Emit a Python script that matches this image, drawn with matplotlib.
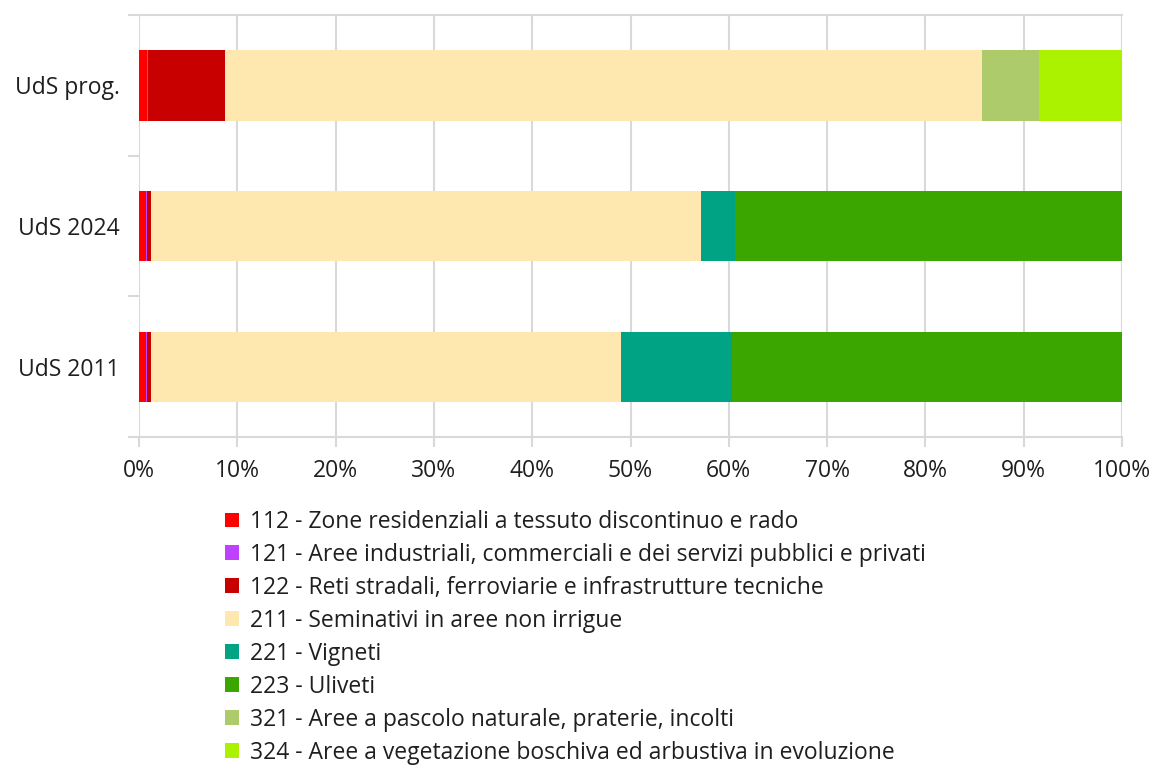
import matplotlib
matplotlib.use("Agg")
import matplotlib.pyplot as plt
from matplotlib.patches import Patch
import numpy as np

plt.rcParams['font.family'] = ['Open Sans', 'DejaVu Sans']

categories = ["UdS 2011", "UdS 2024", "UdS prog."]
classes = [
    "112 - Zone residenziali a tessuto discontinuo e rado",
    "121 - Aree industriali, commerciali e dei servizi pubblici e privati",
    "122 - Reti stradali, ferroviarie e infrastrutture tecniche",
    "211 - Seminativi in aree non irrigue",
    "221 - Vigneti",
    "223 - Uliveti",
    "321 - Aree a pascolo naturale, praterie, incolti",
    "324 - Aree a vegetazione boschiva ed arbustiva in evoluzione",
]
colors = ["#ff0000", "#bf40ff", "#c80000", "#ffe8af", "#00a383",
          "#3ca600", "#aecb6b", "#aaf200"]

# percentages per class, order: UdS 2011, UdS 2024, UdS prog.
v112 = [0.7, 0.7, 0.85]
v121 = [0.1, 0.1, 0.1]
v122 = [0.4, 0.4, 7.8]
v211 = [47.8, 56.0, 77.0]
v221 = [11.3, 3.4, 0.0]
v223 = [39.7, 39.4, 0.0]
v321 = [0.0, 0.0, 5.8]
v324 = [0.0, 0.0, 8.45]
series = [v112, v121, v122, v211, v221, v223, v321, v324]

W, H = 1154, 765
fig = plt.figure(figsize=(W / 100, H / 100), dpi=100)
ax = fig.add_axes([139 / W, 1 - 437 / H, (1122 - 139) / W, (437 - 15) / H])

y = np.arange(len(categories))
left = np.zeros(len(categories))
for vals, col in zip(series, colors):
    vals = np.array(vals)
    ax.barh(y, vals, left=left, height=0.5, color=col, edgecolor='none', zorder=3)
    left += vals

FS = 16.5
txt_col = "#1f1f1f"
grid_col = "#d9d9d9"
ax.set_xlim(0, 100)
ax.set_ylim(-0.5, 2.5)
ax.set_xticks(np.arange(0, 101, 10))
ax.set_xticklabels([f"{t}%" for t in range(0, 101, 10)], fontsize=FS, color=txt_col)
ax.xaxis.grid(True, color=grid_col, linewidth=1.5, zorder=0)
ax.tick_params(axis='x', length=7, width=1.5, color=grid_col, pad=9)

ax.set_yticks(y)
ax.set_yticklabels(categories, fontsize=FS, color=txt_col)
ax.tick_params(axis='y', which='major', length=0, pad=14)
ax.set_yticks([-0.5, 0.5, 1.5, 2.5], minor=True)
ax.tick_params(axis='y', which='minor', length=8, width=1.5, color=grid_col)

for s in ['left', 'right']:
    ax.spines[s].set_visible(False)
for s in ['top', 'bottom']:
    ax.spines[s].set_color(grid_col)
    ax.spines[s].set_linewidth(1.5)

handles = [Patch(facecolor=c, edgecolor='none') for c in colors]
leg = fig.legend(handles, classes, loc='upper left',
                 bbox_to_anchor=(225 / W, 1 - 510 / H), frameon=False,
                 fontsize=FS, handlelength=0.62, handleheight=0.62,
                 handletextpad=0.45, labelspacing=0.39, borderpad=0, borderaxespad=0)
for t in leg.get_texts():
    t.set_color(txt_col)

fig.savefig("out.png", dpi=100)
